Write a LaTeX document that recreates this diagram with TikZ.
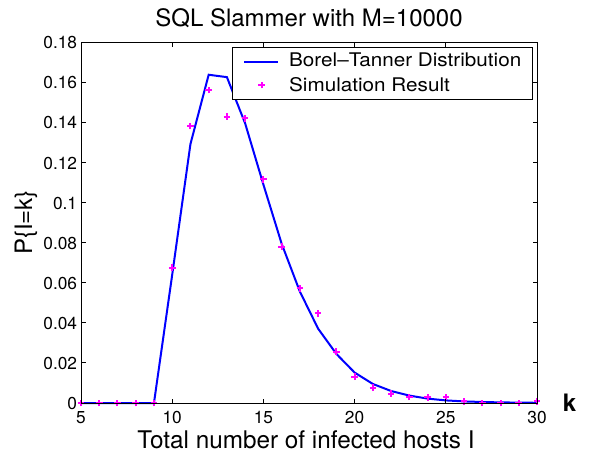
\documentclass[tikz,border=0pt]{standalone}
\usepackage{fontspec}
\setmainfont{TeX Gyre Heros}
\definecolor{btblue}{RGB}{0,0,255}
\definecolor{simmag}{RGB}{255,0,255}
\tikzset{
  axisline/.style={line width=0.9pt, black},
  btcurve/.style={btblue, line width=2pt, line join=miter},
  simplus/.style={simmag, line width=2pt},
  plusmark/.pic={\draw[simplus] (-3.3pt,0) -- (3.3pt,0) (0,-3.3pt) -- (0,3.3pt);},
  ticklabel/.style={inner sep=0pt, font=\fontsize{17.3}{20}\selectfont},
  axislabel/.style={inner sep=0pt, font=\fontsize{24}{28}\selectfont},
  legendtext/.style={inner sep=0pt, anchor=base west, font=\fontsize{18.8}{22}\selectfont\addfontfeature{FakeStretch=1.1}},
}
\begin{document}
\begin{tikzpicture}[x=1pt,y=-1pt]
\useasboundingbox (0,0) rectangle (589,455);
\fill[white] (0,0) rectangle (589,455);
\begin{scope}[shift={(-10.2pt,-403pt)}, x=18.24pt, y=2004pt]
  % curve
  \draw[btcurve] plot coordinates {(5,0) (6,0) (7,0) (8,0) (9,0) (10,0.064) (11,0.1292) (12,0.1638) (13,0.1626) (14,0.1395) (15,0.109) (16,0.0795) (17,0.0556) (18,0.0371) (19,0.0245) (20,0.0152) (21,0.0095) (22,0.0060) (23,0.0037) (24,0.0022) (25,0.0013) (26,0.0008) (27,0.0005) (28,0.0003) (29,0.0002) (30,0.0001)};
  % simulation markers
  \foreach \k/\v in {5/0,6/0,7/0,8/0,9/0,10/0.0675,11/0.1382,12/0.1562,13/0.1429,14/0.1421,15/0.1116,16/0.0780,17/0.0572,18/0.0448,19/0.0256,20/0.0131,21/0.0076,22/0.0047,23/0.0030,24/0.0028,25/0.0029,26/0.0008,27/0,28/0,29/0,30/0.0008}
    \pic at (\k,\v) {plusmark};
  % axes frame
  \draw[axisline] (5,0) rectangle (30,0.18);
  \foreach \k in {5,10,...,30} {
    \draw[axisline] (\k,0) -- ++(0,4.5pt);
    \draw[axisline] (\k,0.18) -- ++(0,-4.5pt);
    \node[ticklabel, anchor=base] (xt\k) at ([yshift=-20pt]\k,0) {\k};
  }
  \foreach \v/\l [count=\i] in {0/0,0.02/0.02,0.04/0.04,0.06/0.06,0.08/0.08,0.1/0.1,0.12/0.12,0.14/0.14,0.16/0.16,0.18/0.18} {
    \draw[axisline] (5,\v) -- ++(4.5pt,0);
    \draw[axisline] (30,\v) -- ++(-4.5pt,0);
    \node[ticklabel, anchor=base east] (yt\i) at ([xshift=-3.7pt,yshift=-6.5pt]5,\v) {\l};
  }
\end{scope}
% legend
\node[draw=black, line width=0.8pt, fill=white, inner sep=0pt, minimum width=300pt, minimum height=51.7pt, anchor=north west] (legend) at (232.3,47.3) {};
\coordinate (lsA) at (244.3,61.7);
\coordinate (lsB) at (277.7,61.7);
\draw[btcurve] (lsA) -- (lsB);
\pic at (261.7,85) {plusmark};
\node[legendtext] (leg1) at (289,66.7) {Borel–Tanner Distribution};
\node[legendtext] (leg2) at (289,91.7) {Simulation Result};
% labels
\node[axislabel, anchor=base] (title) at (309,26) {SQL Slammer with M=10000};
\node[axislabel, anchor=base, font=\fontsize{24.3}{28}\selectfont] (xlabel) at (306,448) {Total number of infected hosts I};
\node[axislabel, anchor=base, rotate=90] (ylabel) at (32,222.5) {P\{I=k\}};
\node[inner sep=0pt, anchor=base, font=\bfseries\fontsize{24}{28}\selectfont] (klabel) at (569.5,411) {k};
\end{tikzpicture}
\end{document}
